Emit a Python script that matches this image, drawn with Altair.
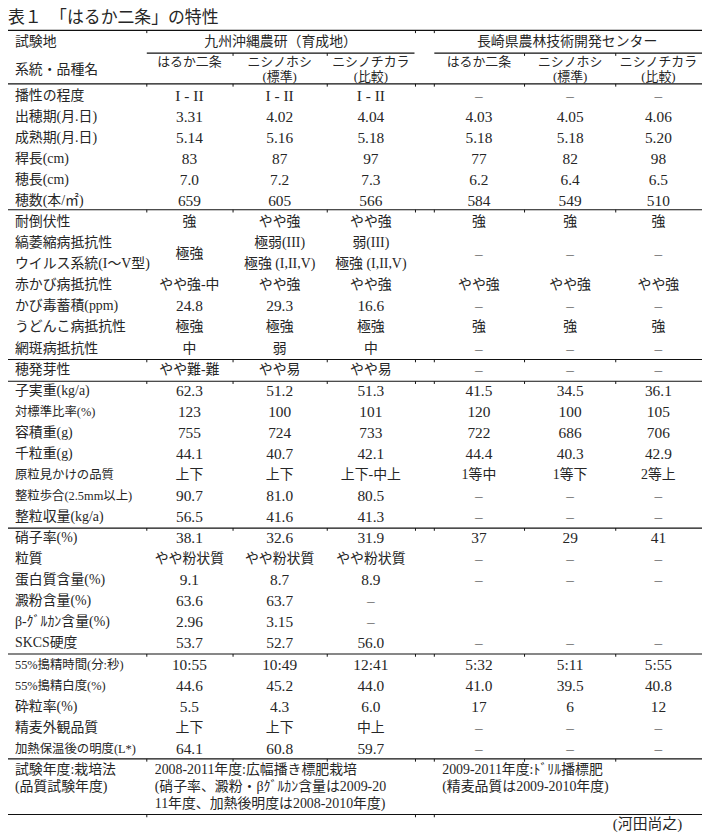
import altair as alt
import pandas as pd

# ---------------- table content ----------------
title_text = "表１　「はるか二条」の特性"
header_site_label = "試験地"
header_variety_label = "系統・品種名"
site_names = ["九州沖縄農研（育成地）", "長崎県農林技術開発センター"]
variety_names = ["はるか二条", "ニシノホシ", "ニシノチカラ", "はるか二条", "ニシノホシ", "ニシノチカラ"]
variety_notes = ["", "(標準)", "(比較)", "", "(標準)", "(比較)"]

row_labels = [
    "播性の程度", "出穂期(月.日)", "成熟期(月.日)", "稈長(cm)", "穂長(cm)", "穂数(本/㎡)",
    "耐倒伏性", "縞萎縮病抵抗性", "ウイルス系統(I〜V型)", "赤かび病抵抗性", "かび毒蓄積(ppm)",
    "うどんこ病抵抗性", "網斑病抵抗性", "穂発芽性", "子実重(kg/a)", "対標準比率(%)", "容積重(g)",
    "千粒重(g)", "原粒見かけの品質", "整粒歩合(2.5mm以上)", "整粒収量(kg/a)", "硝子率(%)", "粒質",
    "蛋白質含量(%)", "澱粉含量(%)", "β-ｸﾞﾙｶﾝ含量(%)", "SKCS硬度", "55%搗精時間(分:秒)",
    "55%搗精白度(%)", "砕粒率(%)", "精麦外観品質", "加熱保温後の明度(L*)",
]
small_labels = ["対標準比率(%)", "原粒見かけの品質", "整粒歩合(2.5mm以上)",
                "55%搗精時間(分:秒)", "55%搗精白度(%)", "加熱保温後の明度(L*)"]

kyushu_haruka = ["I - II", "3.31", "5.14", "83", "7.0", "659", "強", "極強", "", "やや強-中", "24.8",
                 "極強", "中", "やや難-難", "62.3", "123", "755", "44.1", "上下", "90.7", "56.5", "38.1",
                 "やや粉状質", "9.1", "63.6", "2.96", "53.7", "10:55", "44.6", "5.5", "上下", "64.1"]
kyushu_nishinohoshi = ["I - II", "4.02", "5.16", "87", "7.2", "605", "やや強", "極弱(III)", "極強 (I,II,V)",
                       "やや強", "29.3", "極強", "弱", "やや易", "51.2", "100", "724", "40.7", "上下", "81.0",
                       "41.6", "32.6", "やや粉状質", "8.7", "63.7", "3.15", "52.7", "10:49", "45.2", "4.3",
                       "上下", "60.8"]
kyushu_nishinochikara = ["I - II", "4.04", "5.18", "97", "7.3", "566", "やや強", "弱(III)", "極強 (I,II,V)",
                         "やや強", "16.6", "極強", "中", "やや易", "51.3", "101", "733", "42.1", "上下-中上",
                         "80.5", "41.3", "31.9", "やや粉状質", "8.9", "–", "–", "56.0", "12:41", "44.0", "6.0",
                         "中上", "59.7"]
nagasaki_haruka = ["–", "4.03", "5.18", "77", "6.2", "584", "強", "–", "", "やや強", "–", "強", "–", "–",
                   "41.5", "120", "722", "44.4", "1等中", "–", "–", "37", "–", "–", "", "", "–", "5:32",
                   "41.0", "17", "–", "–"]
nagasaki_nishinohoshi = ["–", "4.05", "5.18", "82", "6.4", "549", "強", "–", "", "やや強", "–", "強", "–", "–",
                         "34.5", "100", "686", "40.3", "1等下", "–", "–", "29", "–", "–", "", "", "–", "5:11",
                         "39.5", "6", "–", "–"]
nagasaki_nishinochikara = ["–", "4.06", "5.20", "98", "6.5", "510", "強", "–", "", "やや強", "–", "強", "–", "–",
                           "36.1", "105", "706", "42.9", "2等上", "–", "–", "41", "–", "–", "", "", "–", "5:55",
                           "40.8", "12", "–", "–"]
columns = [kyushu_haruka, kyushu_nishinohoshi, kyushu_nishinochikara,
           nagasaki_haruka, nagasaki_nishinohoshi, nagasaki_nishinochikara]
# cells spanning two rows (row index, column index)
merged_cells = [(7, 0), (7, 3), (7, 4), (7, 5)]

footer_label = ["試験年度:栽培法", "(品質試験年度)"]
footer_kyushu = ["2008-2011年度:広幅播き標肥栽培", "(硝子率、澱粉・βｸﾞﾙｶﾝ含量は2009-20",
                 "11年度、加熱後明度は2008-2010年度)"]
footer_nagasaki = ["2009-2011年度:ﾄﾞﾘﾙ播標肥", "(精麦品質は2009-2010年度)"]
author = "(河田尚之)"

# ---------------- layout (styling constants) ----------------
W, H = 700, 818
xs = alt.Scale(domain=[8, 708])
ys = alt.Scale(domain=[-4, 34.5], reverse=True)
FONT = "Liberation Serif, Noto Sans CJK JP"
INK = "#262626"
label_x = 15
col_x = [191, 282, 374, 483, 575, 664]
site_x = [283, 572]
bounds_all = [148, 235, 330, 419, 438, 529, 621]
bounds_foot = [148, 419, 438]
row_title = -3.67
row_site = -2.54
row_variety = -1.62
row_note = -0.89
row_variety_label = -1.22
footer_rows = [32.0, 32.8, 33.6]
row_author = 34.55
kyushu_footer_x = 156
nagasaki_footer_x = 446
author_x = 688

# rules: (x start, x end, row position, tick positions)
rule_specs = [
    (8, 708, -3.106, [148, 419, 438]),
    (148, 418, -2.024, [235, 330]),
    (438, 708, -2.024, [529, 621]),
    (8, 708, -0.565, bounds_all),
    (8, 708, 5.41, bounds_all),
    (8, 708, 12.52, bounds_all),
    (8, 708, 13.55, bounds_all),
    (8, 708, 20.52, bounds_all),
    (8, 708, 26.50, bounds_all),
    (8, 708, 31.48, bounds_all),
    (8, 708, 34.12, bounds_foot),
]

# ---------------- frames ----------------
rules_df = pd.DataFrame([{"x": a, "x2": b, "r": r} for a, b, r, _ in rule_specs])
ticks_df = pd.DataFrame([{"x": t, "r": r, "r2": r + 0.13} for _, _, r, ts in rule_specs for t in ts])

labels_df = pd.DataFrame({"text": row_labels, "x": label_x, "r": list(range(len(row_labels)))})
labels_df["small"] = labels_df["text"].isin(small_labels)

cell_rows = []
for ci, col in enumerate(columns):
    for ri, val in enumerate(col):
        if val == "":
            continue
        r = ri + 0.5 if (ri, ci) in merged_cells else ri
        cell_rows.append({"text": val, "x": col_x[ci], "r": r})
cells_df = pd.DataFrame(cell_rows)
cells_df["latin"] = cells_df["text"].map(lambda s: all(ord(ch) < 0x3000 for ch in s))

head_center = pd.DataFrame(
    [{"text": s, "x": site_x[i], "r": row_site, "g": "site"} for i, s in enumerate(site_names)]
    + [{"text": v, "x": col_x[i], "r": row_variety, "g": "var"} for i, v in enumerate(variety_names)]
    + [{"text": n, "x": col_x[i], "r": row_note, "g": "note"} for i, n in enumerate(variety_notes) if n]
)
head_left = pd.DataFrame([
    {"text": header_site_label, "x": label_x, "r": row_site},
    {"text": header_variety_label, "x": label_x, "r": row_variety_label},
])
footer_df = pd.DataFrame(
    [{"text": t, "x": label_x, "r": footer_rows[i]} for i, t in enumerate(footer_label)]
    + [{"text": t, "x": kyushu_footer_x, "r": footer_rows[i]} for i, t in enumerate(footer_kyushu)]
    + [{"text": t, "x": nagasaki_footer_x, "r": footer_rows[i]} for i, t in enumerate(footer_nagasaki)]
)
title_df = pd.DataFrame([{"text": title_text, "x": 8, "r": row_title}])
author_df = pd.DataFrame([{"text": author, "x": author_x, "r": row_author}])


def enc(chart):
    return chart.encode(
        x=alt.X("x:Q", scale=xs, axis=None),
        y=alt.Y("r:Q", scale=ys, axis=None),
        text="text:N",
    )


def txt(df, **kw):
    base = dict(font=FONT, baseline="middle", color=INK)
    base.update(kw)
    return enc(alt.Chart(df).mark_text(**base))


rule_layer = alt.Chart(rules_df).mark_rule(color="#111111", strokeWidth=1.2).encode(
    x=alt.X("x:Q", scale=xs, axis=None), x2="x2:Q", y=alt.Y("r:Q", scale=ys, axis=None)
)
tick_layer = alt.Chart(ticks_df).mark_rule(color="#111111", strokeWidth=1).encode(
    x=alt.X("x:Q", scale=xs, axis=None), y=alt.Y("r:Q", scale=ys, axis=None), y2="r2:Q"
)

layers = [
    rule_layer,
    tick_layer,
    txt(title_df, align="left", fontSize=17),
    txt(head_left, align="left", fontSize=14),
    txt(head_center[head_center.g == "site"], align="center", fontSize=14),
    txt(head_center[head_center.g == "var"], align="center", fontSize=13),
    txt(head_center[head_center.g == "note"], align="center", fontSize=13),
    txt(labels_df[~labels_df.small], align="left", fontSize=14),
    txt(labels_df[labels_df.small], align="left", fontSize=12.5),
    txt(cells_df[cells_df.latin], align="center", fontSize=15.5),
    txt(cells_df[~cells_df.latin], align="center", fontSize=14),
    txt(footer_df, align="left", fontSize=14),
    txt(author_df, align="right", fontSize=15),
]

chart = alt.layer(*layers).properties(
    width=W, height=H,
    padding={"left": 0, "top": 0, "right": 0, "bottom": 8},
    autosize=alt.AutoSizeParams(type="none"),
).configure_view(stroke=None)

chart.save("out.html", embed_options={"renderer": "svg", "actions": False})
